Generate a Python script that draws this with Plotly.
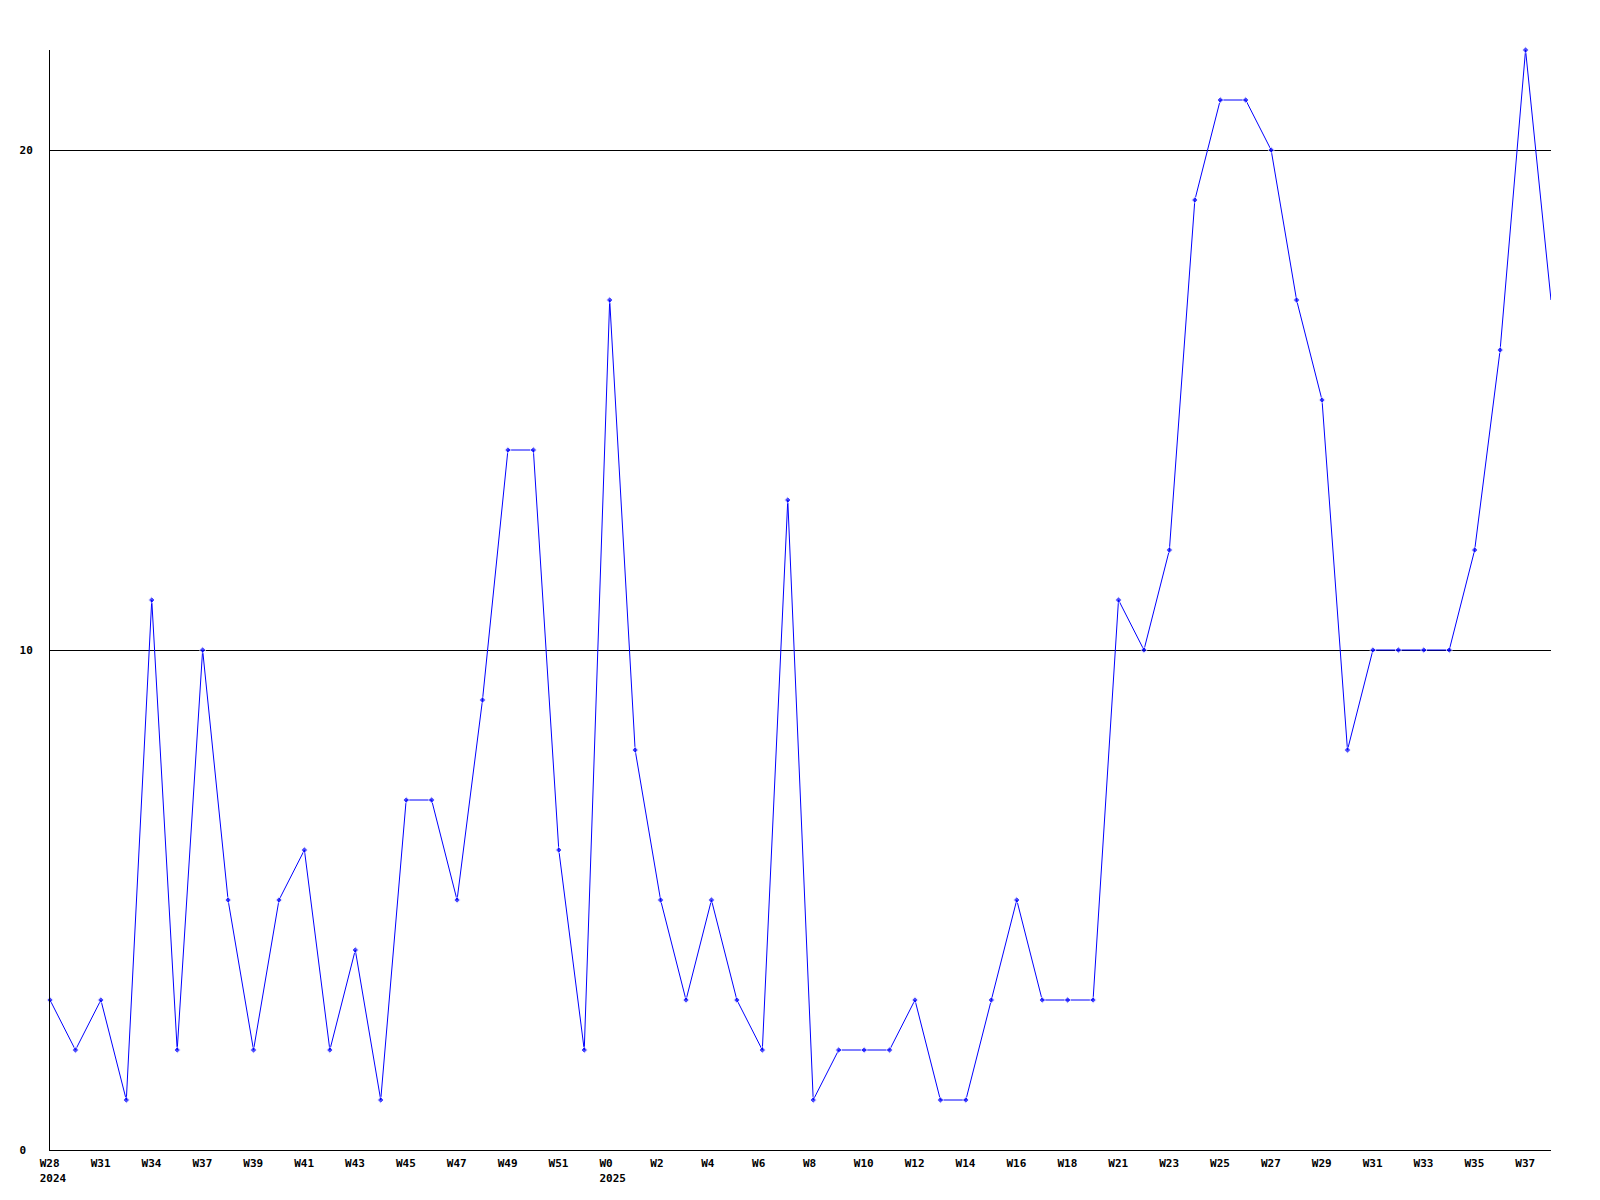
import plotly.graph_objects as go

values = [3, 2, 3, 1, 11, 2, 10, 5, 2, 5,
          6, 2, 4, 1, 7, 7, 5, 9, 14, 14,
          6, 2, 17, 8, 5, 3, 5, 3, 2, 13,
          1, 2, 2, 2, 3, 1, 1, 3, 5, 3,
          3, 3, 11, 10, 12, 19, 21, 21, 20, 17,
          15, 8, 10, 10, 10, 10, 12, 16, 22, 17]

week_labels = ["W28", "W31", "W34", "W37", "W39", "W41", "W43", "W45", "W47", "W49",
               "W51", "W0", "W2", "W4", "W6", "W8", "W10", "W12", "W14", "W16",
               "W18", "W21", "W23", "W25", "W27", "W29", "W31", "W33", "W35", "W37"]
year_labels = {"W28": "2024", "W0": "2025"}
y_ticks = [0, 10, 20]

NB = "\u00a0"
x = list(range(len(values)))
tickvals = x[::2]
ticktext = []
for i, w in enumerate(week_labels):
    lab = w + NB * (4 - len(w))
    if i in (0, 11):
        lab = lab + "<br>" + year_labels[w]
    ticktext.append(lab)

font = dict(family="DejaVu Sans Mono", size=11, color="black", weight="bold")

# the last (partial) point is drawn without a marker in the reference
marker_sizes = [5] * (len(values) - 1) + [0]

fig = go.Figure()
fig.add_trace(go.Scatter(
    x=x, y=values, mode="lines+markers",
    line=dict(color="#0000ff", width=1),
    marker=dict(color="#0000ff", size=marker_sizes, symbol="diamond"),
    cliponaxis=False, showlegend=False,
))

fig.update_layout(
    width=1592, height=1192,
    margin=dict(l=42, r=49, t=42, b=50),
    paper_bgcolor="white", plot_bgcolor="white",
    font=font,
)
fig.update_xaxes(
    range=[0, len(values) - 1], tickvals=tickvals, ticktext=ticktext,
    showgrid=False, zeroline=False, showline=True, linecolor="black", linewidth=1,
    ticks="", tickfont=font, ticklabelstandoff=3, ticklabelshift=3,
)
fig.update_yaxes(
    range=[0, 22], tickvals=y_ticks, ticktext=["0" + NB, "10", "20"],
    showgrid=True, gridcolor="black", gridwidth=1,
    zeroline=False, showline=True, linecolor="black", linewidth=1,
    ticks="", tickfont=font, ticklabelstandoff=14,
)

fig.write_html("out.html")
